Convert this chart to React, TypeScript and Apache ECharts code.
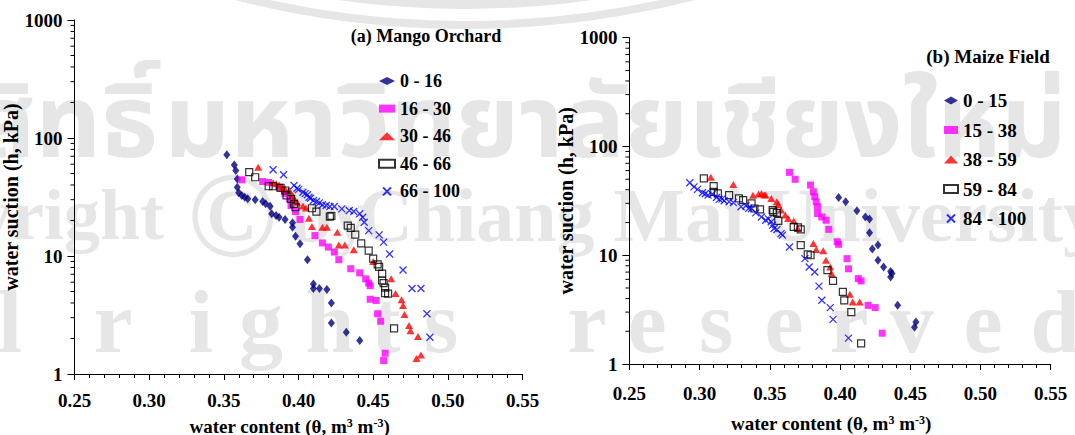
import { useEffect, useRef } from 'react';
import * as echarts from 'echarts';

const FONT = '"Liberation Serif", "Times New Roman", Times, serif';
const THAI_FONT = '"Noto Sans Thai", "Noto Serif Thai", "Noto Looped Thai", Garuda, Loma, Sawasdee, "Tlwg Typo", sans-serif';

// Water retention points: [volumetric water content θ (m3 m-3), suction h (kPa)]
// (a) Mango orchard, by depth class (cm)
const mango0to16 = [
  [0.352, 72], [0.357, 59], [0.358, 53], [0.359, 45], [0.359, 38.3], [0.360, 34.3],
  [0.362, 32.6], [0.364, 31.5], [0.366, 30.5], [0.371, 29.9], [0.376, 29], [0.378, 27.7],
  [0.381, 26.4], [0.382, 22.8], [0.385, 22], [0.387, 21.3], [0.391, 20.4], [0.396, 19.1],
  [0.396, 17.5], [0.398, 14.7], [0.401, 12.7], [0.406, 9.3], [0.410, 5.8], [0.410, 5.3],
  [0.414, 5.3], [0.419, 5.2], [0.422, 4.0], [0.422, 2.7], [0.432, 2.26], [0.441, 1.92],
];
const mango16to30 = [
  [0.362, 44.2], [0.376, 42.8], [0.380, 42], [0.387, 38.3], [0.391, 33.7], [0.394, 30.5],
  [0.395, 26.8], [0.398, 23.8], [0.401, 20.4], [0.411, 14.9], [0.416, 12.9], [0.420, 11.9],
  [0.424, 10.8], [0.427, 9.3], [0.435, 7.8], [0.441, 7.2], [0.445, 6.4], [0.447, 5.9],
  [0.448, 5.6], [0.448, 4.3], [0.452, 4.2], [0.453, 3.24], [0.455, 2.8], [0.458, 1.5],
  [0.457, 1.3],
];
const mango30to46 = [
  [0.373, 56.6], [0.383, 41.7], [0.385, 40.9], [0.387, 40.0], [0.389, 38.3], [0.391, 37.2],
  [0.394, 35.9], [0.396, 32.6], [0.397, 30.5], [0.399, 28.6], [0.403, 26.5], [0.405, 25.5],
  [0.407, 20.9], [0.409, 17.8], [0.416, 17.5], [0.419, 17.5], [0.426, 15.9], [0.427, 12.4],
  [0.431, 12.4], [0.437, 11.3], [0.450, 9.0], [0.462, 6.4], [0.465, 4.8], [0.469, 4.25],
  [0.470, 3.8], [0.471, 3.2], [0.474, 2.58], [0.475, 2.33], [0.480, 2.08], [0.482, 1.45],
  [0.479, 1.35],
];
const mango46to66 = [
  [0.367, 51.3], [0.371, 46.5], [0.380, 39.0], [0.383, 39.0], [0.388, 37.8], [0.391, 35.9],
  [0.392, 32.6], [0.395, 30.5], [0.397, 27.7], [0.398, 25.9], [0.409, 25.4], [0.412, 23.8],
  [0.421, 21.6], [0.422, 21.9], [0.433, 18.1], [0.435, 17.3], [0.438, 15.2], [0.442, 12.8],
  [0.447, 11.1], [0.450, 9.5], [0.453, 8.5], [0.454, 8.1], [0.456, 7.1], [0.456, 6.2],
  [0.457, 5.9], [0.458, 5.4], [0.458, 4.84], [0.460, 4.8], [0.464, 2.44],
];
const mango66to100 = [
  [0.383, 53.8], [0.390, 48.8], [0.397, 39.6], [0.399, 37.5], [0.400, 36.5], [0.403, 34.7],
  [0.4045, 33.8], [0.406, 33.0], [0.407, 31.5], [0.408, 30.9], [0.410, 29.5], [0.412, 29.0],
  [0.414, 28.2], [0.416, 27.2], [0.4185, 26.8], [0.421, 26.3], [0.424, 26.3], [0.429, 25.1],
  [0.434, 24.3], [0.437, 23.8], [0.441, 22.8], [0.443, 21.3], [0.444, 19.3], [0.447, 16.4],
  [0.454, 15.1], [0.457, 13.1], [0.461, 10.4], [0.470, 7.6], [0.476, 5.3], [0.482, 5.3],
  [0.486, 3.24], [0.488, 2.05],
];

// (b) Maize field, by depth class (cm)
const maize0to15 = [
  [0.399, 34], [0.404, 31], [0.412, 25.6], [0.418, 22.5], [0.421, 21.5], [0.421, 16.1],
  [0.427, 12.4], [0.423, 11.4], [0.427, 9.0], [0.431, 7.8], [0.436, 7.1], [0.437, 6.8],
  [0.436, 6.3], [0.441, 3.46], [0.454, 2.43], [0.453, 2.18],
];
const maize15to38 = [
  [0.364, 57.8], [0.368, 49.9], [0.379, 44.2], [0.381, 38.3], [0.382, 34.5], [0.383, 31],
  [0.384, 27.9], [0.384, 24.2], [0.387, 22.5], [0.390, 21], [0.392, 17.3], [0.398, 13.3],
  [0.399, 12.6], [0.405, 9.3], [0.406, 7.5], [0.413, 6.1], [0.415, 5.8], [0.420, 3.46],
  [0.425, 3.3], [0.430, 1.92],
];
const maize38to59 = [
  [0.308, 52], [0.324, 44.8], [0.338, 35.6], [0.342, 36.5], [0.344, 37], [0.346, 36],
  [0.347, 35.7], [0.351, 33.3], [0.355, 31], [0.356, 29.3], [0.358, 26], [0.361, 23.4],
  [0.363, 21.8], [0.367, 20.6], [0.370, 17.6], [0.381, 12.8], [0.383, 11.3], [0.388, 11],
  [0.390, 9], [0.393, 7.8], [0.394, 6.8], [0.407, 4.37], [0.409, 3.71], [0.414, 3.71],
];
const maize59to84 = [
  [0.303, 50.9], [0.310, 43.2], [0.310, 38.3], [0.313, 37], [0.321, 35.7], [0.328, 33.3],
  [0.331, 32.1], [0.337, 30], [0.339, 26.9], [0.343, 26.4], [0.352, 26], [0.3525, 25],
  [0.355, 24.5], [0.356, 20.7], [0.367, 18.2], [0.370, 18], [0.372, 17.3], [0.372, 12.4],
  [0.377, 10.2], [0.379, 10], [0.391, 7.3], [0.395, 5.8], [0.402, 4.6], [0.403, 3.85],
  [0.408, 3.0], [0.415, 1.55],
];
const maize84to100 = [
  [0.293, 46.4], [0.296, 42.5], [0.2985, 40.3], [0.302, 37.5], [0.304, 36.8], [0.306, 35.7],
  [0.309, 36.3], [0.312, 34], [0.314, 32.6], [0.316, 33], [0.3175, 31.7], [0.321, 31],
  [0.324, 30.5], [0.3295, 27.9], [0.333, 28.5], [0.335, 27], [0.337, 26.9], [0.340, 24.5],
  [0.344, 22.5], [0.347, 21], [0.349, 21.6], [0.351, 20.3], [0.352, 18.9], [0.353, 17.6],
  [0.355, 17.2], [0.358, 15.8], [0.359, 15.3], [0.364, 11.9], [0.375, 9.3], [0.378, 7.8],
  [0.382, 7], [0.385, 5.2], [0.387, 3.85], [0.393, 3.3], [0.395, 2.57], [0.406, 1.73],
];

const mangoDepths = ['0 - 16', '16 - 30', '30 - 46', '46 - 66', '66 - 100'];
const maizeDepths = ['0 - 15', '15 - 38', '38 - 59', '59 - 84', '84 - 100'];
const mangoSets = [mango0to16, mango16to30, mango30to46, mango46to66, mango66to100];
const maizeSets = [maize0to15, maize15to38, maize38to59, maize59to84, maize84to100];

const thetaMin = 0.25;
const thetaMax = 0.55;
const thetaStep = 0.05;
const suctionMin = 1;
const suctionMax = 1000;
// log-scale minor ticks between the decades
const suctionMinorTicks = [2, 3, 4, 5, 6, 7, 8, 9, 20, 30, 40, 50, 60, 70, 80, 90, 200, 300, 400, 500, 600, 700, 800, 900];

const markers = [
  { symbol: 'diamond', symbolSize: [7, 9], itemStyle: { color: '#000080' } },
  { symbol: 'rect', symbolSize: 7, itemStyle: { color: '#ff00ff' } },
  { symbol: 'triangle', symbolSize: [8, 7], itemStyle: { color: '#ff0000' } },
  { symbol: 'rect', symbolSize: 7, itemStyle: { color: 'rgba(255,255,255,0)', borderColor: '#000000', borderWidth: 1.2 } },
  { symbol: 'path://M0,0L10,10M10,0L0,10', symbolSize: 7, itemStyle: { color: 'rgba(0,0,0,0)', borderColor: '#0000ff', borderWidth: 1.3 } },
];

const WM = '#e6e6e6';

// faint copyright stamp printed behind both panels
function buildWatermark() {
  const wmText = (text: string, x: number, y: number, font: string, align = 'left') => ({
    type: 'text',
    x,
    y,
    z: -100,
    silent: true,
    style: { text, fill: WM, font, textAlign: align, textVerticalAlign: 'middle' },
  });
  const serif = (size: number) => `bold ${size}px ${FONT}`;
  const letters: [string, number][] = [
    ['l', 10], ['r', 113], ['i', 201], ['g', 261], ['h', 330], ['t', 386], ['s', 441],
    ['r', 587], ['e', 647], ['s', 716], ['e', 784], ['r', 849], ['v', 912], ['e', 983], ['d', 1055],
  ];
  return [
    {
      type: 'circle', z: -100, silent: true,
      shape: { cx: 465, cy: -900, r: 925 },
      style: { fill: 'none', stroke: WM, lineWidth: 8 },
    },
    {
      type: 'circle', z: -100, silent: true,
      shape: { cx: 465, cy: -900, r: 904 },
      style: { fill: 'none', stroke: WM, lineWidth: 10 },
    },
    wmText('ลิขสิทธิ์', 158, 126, `bold 102px ${THAI_FONT}`, 'right'),
    wmText('มหาวิทยาลัยเชียงใหม่', 164, 126, `bold 102px ${THAI_FONT}`, 'left'),
    wmText('Copyright', 164, 215, serif(72), 'right'),
    wmText('©', 232, 215, serif(120), 'center'),
    wmText('by', 290, 215, serif(76), 'left'),
    wmText('Chiang Mai University', 358, 215, serif(76), 'left'),
    ...letters.map(([ch, x]) => wmText(ch, x, 322, serif(88), 'center')),
  ];
}

function xAxis(gridIndex: number, nameGap: number, labelMargin: number) {
  return {
    type: 'value',
    gridIndex,
    min: thetaMin,
    max: thetaMax,
    interval: thetaStep,
    name: 'water content (θ, m{s|3} m{s|-3})',
    nameLocation: 'middle',
    nameGap,
    nameTextStyle: {
      fontFamily: FONT, fontWeight: 'bold', fontSize: 19, color: '#000',
      padding: [0, 18, 0, 0],
      rich: { s: { fontFamily: FONT, fontWeight: 'bold', fontSize: 12, color: '#000', verticalAlign: 'top' } },
    },
    axisLine: { show: true, lineStyle: { color: '#000', width: 1 } },
    axisTick: { show: true, length: 6, lineStyle: { color: '#000' } },
    minorTick: { show: true, splitNumber: 5, length: 4, lineStyle: { color: '#000' } },
    splitLine: { show: false },
    minorSplitLine: { show: false },
    axisLabel: {
      margin: labelMargin,
      formatter: (v: number) => v.toFixed(2),
      fontFamily: FONT, fontWeight: 'bold', fontSize: 19, color: '#000',
    },
  };
}

function yAxis(gridIndex: number, nameGap: number) {
  return {
    type: 'log',
    logBase: 10,
    gridIndex,
    min: suctionMin,
    max: suctionMax,
    name: 'water suction (h, kPa)',
    nameLocation: 'middle',
    nameGap,
    nameRotate: 90,
    nameTextStyle: { fontFamily: FONT, fontWeight: 'bold', fontSize: 20, color: '#000' },
    axisLine: { show: true, lineStyle: { color: '#000', width: 1 } },
    axisTick: { show: true, length: 7, lineStyle: { color: '#000' } },
    splitLine: { show: false },
    axisLabel: {
      margin: 12,
      formatter: (v: number) => String(Math.round(v)),
      fontFamily: FONT, fontWeight: 'bold', fontSize: 19, color: '#000',
    },
  };
}

function scatterSeries(names: string[], sets: number[][][], axisIndex: number) {
  return names.map((name, i) => ({
    type: 'scatter',
    name,
    xAxisIndex: axisIndex,
    yAxisIndex: axisIndex,
    data: sets[i],
    symbol: markers[i].symbol,
    symbolSize: markers[i].symbolSize,
    itemStyle: markers[i].itemStyle,
    z: 3 + i,
  }));
}

function minorTickSeries(axisIndex: number) {
  return {
    type: 'custom',
    xAxisIndex: axisIndex,
    yAxisIndex: axisIndex,
    silent: true,
    clip: false,
    data: suctionMinorTicks.map((v) => [thetaMin, v]),
    renderItem: (_params: any, api: any) => {
      const p = api.coord([api.value(0), api.value(1)]);
      return {
        type: 'line',
        shape: { x1: p[0] - 4, y1: p[1], x2: p[0], y2: p[1] },
        style: { stroke: '#000', lineWidth: 1 },
      };
    },
  };
}

function legend(names: string[], left: number, top: number, gap: number, size: number, iconBox: number) {
  return {
    data: names,
    orient: 'vertical',
    left,
    top,
    itemWidth: iconBox,
    itemHeight: 8,
    itemGap: gap,
    selectedMode: false,
    textStyle: { fontFamily: FONT, fontWeight: 'bold', fontSize: size, color: '#000' },
  };
}

export default function App() {
  const ref = useRef<HTMLDivElement>(null);

  useEffect(() => {
    if (!ref.current) return;
    const chart = echarts.init(ref.current, undefined, { renderer: 'svg' });
    chart.setOption({
      animation: false,
      backgroundColor: '#ffffff',
      grid: [
        { left: 74.5, top: 20, width: 448, height: 354, outerBoundsMode: 'none', containLabel: false },
        { left: 629.4, top: 37.7, width: 421.3, height: 326.3, outerBoundsMode: 'none', containLabel: false },
      ],
      xAxis: [xAxis(0, 43, 16.5), xAxis(1, 50, 19.5)],
      yAxis: [yAxis(0, 44), yAxis(1, 44)],
      legend: [
        legend(mangoDepths, 373, 67, 9.6, 18, 16),
        legend(maizeDepths, 938, 86, 10.5, 19, 14),
      ],
      graphic: [
        ...buildWatermark(),
        {
          type: 'text', x: 426, y: 36, z: 10,
          style: { text: '(a) Mango Orchard', font: `bold 18px ${FONT}`, fill: '#000', textAlign: 'center', textVerticalAlign: 'middle' },
        },
        {
          type: 'text', x: 988, y: 56, z: 10,
          style: { text: '(b) Maize Field', font: `bold 19px ${FONT}`, fill: '#000', textAlign: 'center', textVerticalAlign: 'middle' },
        },
      ],
      series: [
        ...scatterSeries(mangoDepths, mangoSets, 0),
        ...scatterSeries(maizeDepths, maizeSets, 1),
        minorTickSeries(0),
        minorTickSeries(1),
      ],
    });
    return () => chart.dispose();
  }, []);

  return (
    <div
      ref={ref}
      style={{ position: 'absolute', left: 0, top: 0, width: 1075, height: 435 }}
    />
  );
}
